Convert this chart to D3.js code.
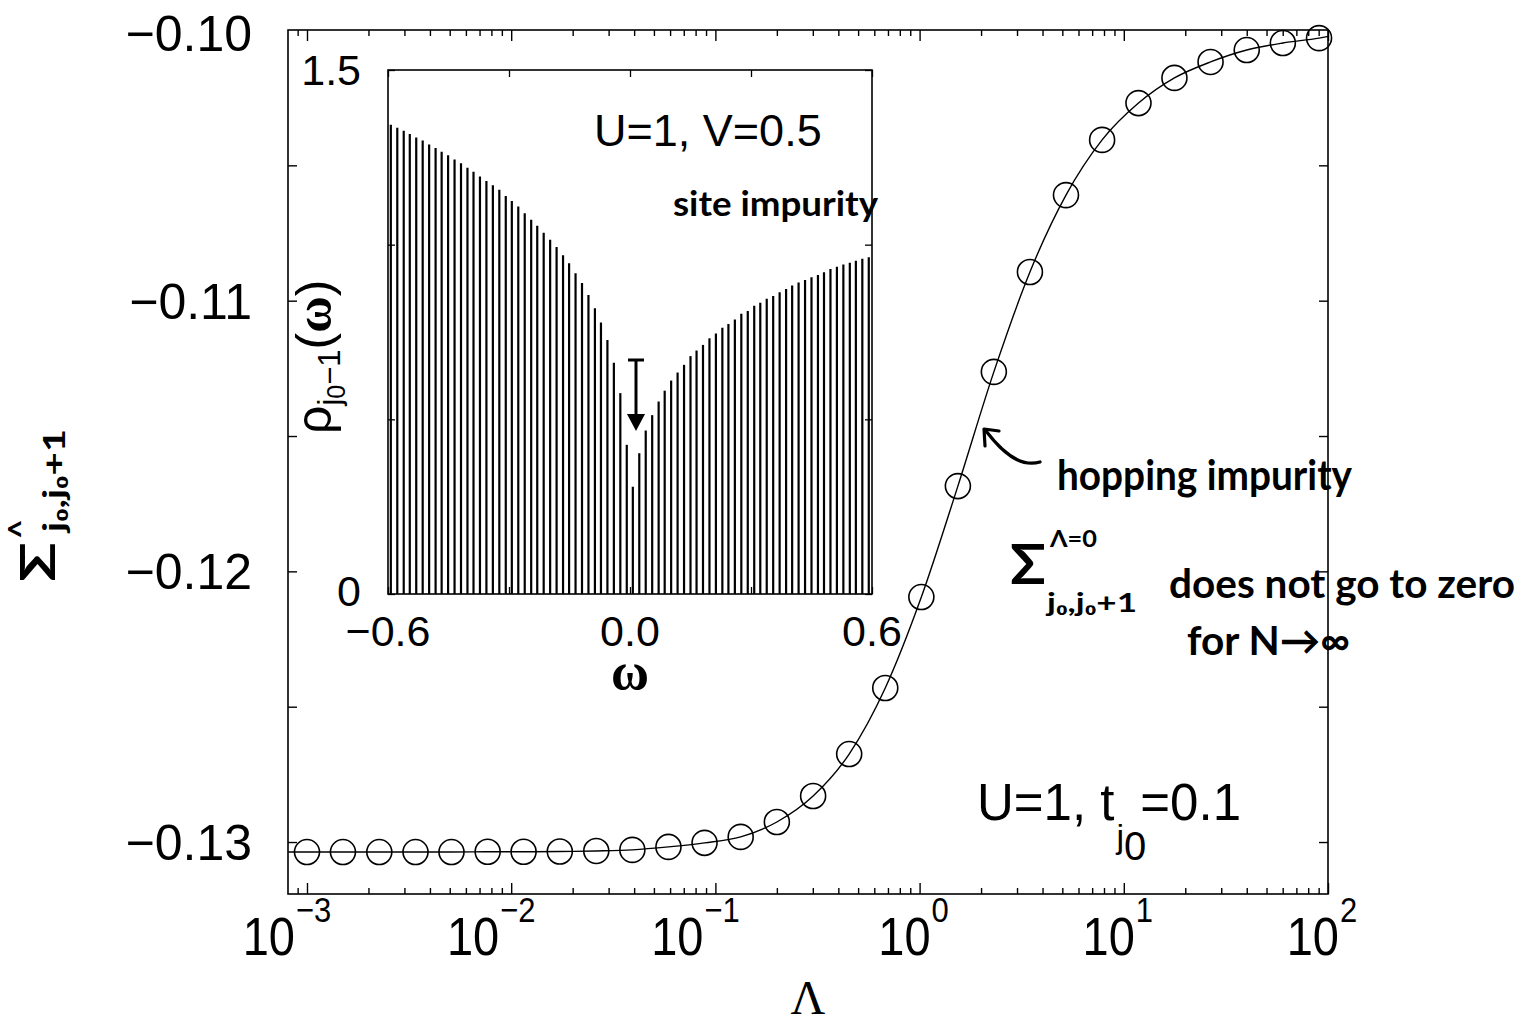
<!DOCTYPE html>
<html><head><meta charset="utf-8">
<script src="https://cdn.jsdelivr.net/npm/d3@7"></script>
<style>body{margin:0;background:#fff} svg{display:block}</style>
</head><body>
<svg id="c" width="1519" height="1028"></svg>
<script>
// ---------- main panel data ----------
const lambda = [0.001, 0.0015, 0.00226, 0.0034, 0.0051, 0.00767, 0.0115, 0.0173, 0.0261, 0.0392,
  0.0589, 0.0885, 0.133, 0.2, 0.301, 0.452, 0.679, 1.02, 1.54, 2.31, 3.47, 5.21, 7.83, 11.8,
  17.7, 26.6, 40.0, 60.1, 90.4];
const sigma = [-0.13037, -0.13037, -0.13037, -0.13037, -0.13037, -0.13036, -0.13036, -0.13035,
  -0.13033, -0.13029, -0.13018, -0.13003, -0.12981, -0.12926, -0.12830, -0.12675, -0.12431,
  -0.12095, -0.11685, -0.11263, -0.10894, -0.10610, -0.10406, -0.10270, -0.10177, -0.10118,
  -0.10074, -0.10048, -0.10030];
const curveEndLambda = [0.00081, 100];
const curveEndSigma = [-0.13037, -0.10024];
const yTickValues = [-0.13, -0.125, -0.12, -0.115, -0.11, -0.105, -0.10];
const yTickLabels = ["\u22120.13", "", "\u22120.12", "", "\u22120.11", "", "\u22120.10"];
const xTickExponents = [-3, -2, -1, 0, 1, 2];

// ---------- inset data ----------
const omega = [-0.593, -0.577, -0.561, -0.546, -0.530, -0.514, -0.498, -0.482, -0.467, -0.451,
  -0.435, -0.419, -0.403, -0.388, -0.372, -0.356, -0.340, -0.324, -0.308, -0.293, -0.277, -0.261,
  -0.245, -0.230, -0.214, -0.198, -0.182, -0.166, -0.151, -0.135, -0.119, -0.103, -0.087, -0.072,
  -0.056, -0.040, -0.024, -0.008, 0.007, 0.023, 0.039, 0.055, 0.071, 0.086, 0.102, 0.118, 0.134,
  0.150, 0.165, 0.181, 0.197, 0.213, 0.229, 0.244, 0.260, 0.276, 0.292, 0.308, 0.323, 0.339,
  0.355, 0.371, 0.387, 0.402, 0.418, 0.434, 0.450, 0.466, 0.481, 0.497, 0.513, 0.529, 0.545,
  0.560, 0.576, 0.592];
const rho = [1.343, 1.335, 1.326, 1.317, 1.307, 1.298, 1.287, 1.277, 1.266, 1.256, 1.244, 1.233,
  1.220, 1.209, 1.195, 1.182, 1.170, 1.157, 1.139, 1.125, 1.109, 1.090, 1.071, 1.054, 1.034,
  1.014, 0.993, 0.970, 0.947, 0.918, 0.890, 0.856, 0.818, 0.777, 0.727, 0.662, 0.575, 0.427,
  0.307, 0.403, 0.468, 0.512, 0.551, 0.582, 0.611, 0.634, 0.656, 0.681, 0.697, 0.713, 0.732,
  0.746, 0.762, 0.773, 0.786, 0.802, 0.810, 0.825, 0.834, 0.845, 0.853, 0.864, 0.873, 0.883,
  0.892, 0.899, 0.907, 0.913, 0.921, 0.930, 0.937, 0.943, 0.948, 0.954, 0.960, 0.964];
const insetXTicks = [-0.6, -0.3, 0, 0.3, 0.6];
const insetXLabels = ["\u22120.6", "", "0.0", "", "0.6"];
const insetYTicks = [0, 0.5, 1.0, 1.5];
const insetYLabels = ["0", "", "", "1.5"];

// ---------- drawing ----------
const svg = d3.select("#c");
const SANS = "'Liberation Sans', Arial, Helvetica, sans-serif";
const SERIF = "'Liberation Serif', 'Times New Roman', serif";
const HAND = "Lato, 'Open Sans', sans-serif";

const M = {l: 288, r: 1328, t: 30, b: 894};
const x = d3.scaleLog().domain([Math.pow(10, -3.093), 100]).range([M.l, M.r]);
const y = d3.scaleLinear().domain([-0.13192, -0.10]).range([M.b, M.t]);

// minor ticks
const majors = xTickExponents.map(e => Math.pow(10, e));
const minors = [];
for (let e = -4; e < 2; e++) for (let m = 2; m <= 9; m++) {
  const v = m * Math.pow(10, e);
  if (v > x.domain()[0] && v < 100) minors.push(v);
}

function styleAxis(g) {
  g.select(".domain").remove();
  g.selectAll(".tick line").attr("stroke", "#000").attr("stroke-width", 1.4);
  g.selectAll(".tick text").remove();
}
svg.append("g").attr("transform", `translate(0,${M.b})`)
  .call(d3.axisBottom(x).tickValues(majors).tickSize(-11).tickFormat("")).call(styleAxis);
svg.append("g").attr("transform", `translate(0,${M.b})`)
  .call(d3.axisBottom(x).tickValues(minors).tickSize(-6).tickFormat("")).call(styleAxis);
svg.append("g").attr("transform", `translate(0,${M.t})`)
  .call(d3.axisTop(x).tickValues(majors).tickSize(-11).tickFormat("")).call(styleAxis);
svg.append("g").attr("transform", `translate(0,${M.t})`)
  .call(d3.axisTop(x).tickValues(minors).tickSize(-6).tickFormat("")).call(styleAxis);
const yTicksIn = yTickValues.filter(v => v > -0.13192 && v < -0.1001);
svg.append("g").attr("transform", `translate(${M.l},0)`)
  .call(d3.axisLeft(y).tickValues(yTicksIn).tickSize(-9).tickFormat("")).call(styleAxis);
svg.append("g").attr("transform", `translate(${M.r},0)`)
  .call(d3.axisRight(y).tickValues(yTicksIn).tickSize(-9).tickFormat("")).call(styleAxis);

// frame
svg.append("rect").attr("x", M.l).attr("y", M.t).attr("width", M.r - M.l).attr("height", M.b - M.t)
  .attr("fill", "none").attr("stroke", "#000").attr("stroke-width", 1.6);

// y tick labels
yTickValues.forEach((v, i) => {
  if (!yTickLabels[i]) return;
  svg.append("text").attr("x", 252).attr("y", y(v) + (i === yTickValues.length - 1 ? 3 : 0)).attr("dy", "0.36em")
    .attr("text-anchor", "end").attr("font-family", SANS).attr("font-size", 50)
    .text(yTickLabels[i]);
});
// x tick labels
xTickExponents.forEach(e => {
  const tx = x(Math.pow(10, e)) + (e < 0 ? -12 : 11);
  const g = svg.append("g").attr("transform", `translate(${tx},955) scale(1,1.15)`);
  g.append("text").attr("text-anchor", "end").attr("font-family", SANS).attr("font-size", 47).text("10");
  g.append("text").attr("x", 1).attr("y", -29).attr("font-family", SANS).attr("font-size", 31)
    .text(e < 0 ? "\u2212" + Math.abs(e) : String(e));
});
// x axis title
svg.append("text").attr("x", (M.l + M.r) / 2).attr("y", 1014).attr("text-anchor", "middle")
  .attr("font-family", SERIF).attr("font-size", 48).text("\u039B");

// y axis title (handwritten style)
const yl = svg.append("g").attr("transform", "translate(55,582) rotate(-90)")
  .attr("font-family", HAND).attr("font-weight", 700);
yl.append("text").attr("x", 0).attr("y", 0).attr("font-size", 48)
  .attr("textLength", 40).attr("lengthAdjust", "spacingAndGlyphs").text("\u03A3");
yl.append("text").attr("x", 43).attr("y", -22).attr("font-size", 34).text("^");
yl.append("text").attr("x", 50).attr("y", 10).attr("font-size", 30)
  .attr("textLength", 103).attr("lengthAdjust", "spacingAndGlyphs").text("j\u2080,j\u2080+1");

// fitted curve + circles
const pts = lambda.map((l, i) => [l, sigma[i]]);
const linePts = [[curveEndLambda[0], curveEndSigma[0]], ...pts, [curveEndLambda[1], curveEndSigma[1]]];
const line = d3.line().x(d => x(d[0])).y(d => y(d[1])).curve(d3.curveMonotoneX);
svg.append("path").attr("d", line(linePts)).attr("fill", "none").attr("stroke", "#000").attr("stroke-width", 1.4);
svg.append("g").selectAll("circle").data(pts).join("circle")
  .attr("cx", d => x(d[0])).attr("cy", d => y(d[1])).attr("r", 12.5)
  .attr("fill", "none").attr("stroke", "#000").attr("stroke-width", 1.6);

// label U=1, t_j0=0.1
const ut = svg.append("text").attr("x", 977).attr("y", 820).attr("font-family", SANS).attr("font-size", 51);
ut.append("tspan").text("U=1, t");
ut.append("tspan").attr("font-size", 34).attr("dy", 28).attr("dx", 2).text("j");
ut.append("tspan").attr("font-size", 40).attr("dy", 12).text("0");
ut.append("tspan").attr("dy", -40).attr("dx", -6).text("=0.1");

// ---------- inset ----------
const I = {l: 388, r: 872, t: 70, b: 594};
const xi = d3.scaleLinear().domain([-0.6, 0.6]).range([I.l, I.r]);
const yi = d3.scaleLinear().domain([0, 1.5]).range([I.b, I.t]);
svg.append("rect").attr("x", I.l).attr("y", I.t).attr("width", I.r - I.l).attr("height", I.b - I.t)
  .attr("fill", "#fff");
svg.append("g").selectAll("line").data(omega.map((w, i) => [w, rho[i]])).join("line")
  .attr("x1", d => xi(d[0])).attr("x2", d => xi(d[0]))
  .attr("y1", yi(0)).attr("y2", d => yi(d[1]))
  .attr("stroke", "#000").attr("stroke-width", 2.2);
function styleInset(g) {
  g.select(".domain").remove();
  g.selectAll(".tick line").attr("stroke", "#000").attr("stroke-width", 1.3);
  g.selectAll(".tick text").remove();
}
svg.append("g").attr("transform", `translate(0,${I.t})`)
  .call(d3.axisTop(xi).tickValues(insetXTicks).tickSize(-7).tickFormat("")).call(styleInset);
svg.append("g").attr("transform", `translate(0,${I.b})`)
  .call(d3.axisBottom(xi).tickValues(insetXTicks).tickSize(-7).tickFormat("")).call(styleInset);
svg.append("g").attr("transform", `translate(${I.r},0)`)
  .call(d3.axisRight(yi).tickValues(insetYTicks).tickSize(-7).tickFormat("")).call(styleInset);
svg.append("g").attr("transform", `translate(${I.l},0)`)
  .call(d3.axisLeft(yi).tickValues(insetYTicks).tickSize(-7).tickFormat("")).call(styleInset);
svg.append("rect").attr("x", I.l).attr("y", I.t).attr("width", I.r - I.l).attr("height", I.b - I.t)
  .attr("fill", "none").attr("stroke", "#000").attr("stroke-width", 1.6);

insetXTicks.forEach((v, i) => {
  if (!insetXLabels[i]) return;
  svg.append("text").attr("x", xi(v)).attr("y", 646).attr("text-anchor", "middle")
    .attr("font-family", SANS).attr("font-size", 43).text(insetXLabels[i]);
});
insetYTicks.forEach((v, i) => {
  if (!insetYLabels[i]) return;
  svg.append("text").attr("x", 361).attr("y", yi(v) - (v === 0 ? 3 : 0)).attr("dy", "0.36em").attr("text-anchor", "end")
    .attr("font-family", SANS).attr("font-size", 43).text(insetYLabels[i]);
});
svg.append("text").attr("x", xi(0)).attr("y", 689).attr("text-anchor", "middle")
  .attr("font-family", SERIF).attr("font-weight", 700).attr("font-size", 52).text("\u03C9");

// inset y title rho_{j0-1}(omega)
const ryl = svg.append("g").attr("transform", "translate(331,434) rotate(-90)").attr("font-family", SANS);
const rt = ryl.append("text").attr("x", 0).attr("y", 0).attr("font-size", 50);
rt.append("tspan").text("\u03C1");
rt.append("tspan").attr("font-size", 31).attr("dy", 9).text("j");
rt.append("tspan").attr("font-size", 25).attr("dy", 5).text("0");
rt.append("tspan").attr("font-size", 31).attr("dy", -5).text("\u22121");
rt.append("tspan").attr("font-size", 50).attr("dy", -9).text("(");
rt.append("tspan").attr("font-family", SERIF).attr("font-weight", 700).attr("font-size", 50).text("\u03C9");
rt.append("tspan").attr("font-size", 50).text(")");

svg.append("text").attr("x", 594).attr("y", 146).attr("font-family", SANS).attr("font-size", 45)
  .text("U=1, V=0.5");

// inset arrow
const ax = 636;
svg.append("line").attr("x1", ax - 8).attr("x2", ax + 8).attr("y1", 360).attr("y2", 360)
  .attr("stroke", "#000").attr("stroke-width", 3);
svg.append("line").attr("x1", ax).attr("x2", ax).attr("y1", 360).attr("y2", 418)
  .attr("stroke", "#000").attr("stroke-width", 3);
svg.append("path").attr("d", `M${ax - 9},414 L${ax + 9},414 L${ax},431 Z`).attr("fill", "#000");

// handwritten annotations
function hand(xp, yp, size, len, txt) {
  return svg.append("text").attr("x", xp).attr("y", yp).attr("font-family", HAND)
    .attr("font-weight", 700).attr("font-size", size)
    .attr("textLength", len).attr("lengthAdjust", "spacingAndGlyphs").text(txt);
}
hand(673, 216, 34, 205, "site impurity");
hand(1057, 490, 42, 295, "hopping impurity");
svg.append("path").attr("d", "M1040,462 C1020,468 1002,452 986,431")
  .attr("fill", "none").attr("stroke", "#000").attr("stroke-width", 3.2).attr("stroke-linecap", "round");
svg.append("path").attr("d", "M985,446 L984,429 L999,431")
  .attr("fill", "none").attr("stroke", "#000").attr("stroke-width", 3.2).attr("stroke-linecap", "round")
  .attr("stroke-linejoin", "round");
hand(1010, 584, 56, 36, "\u03A3");
hand(1050, 547, 22, 47, "\u039B=0");
hand(1047, 612, 26, 90, "j\u2080,j\u2080+1");
hand(1169, 598, 40, 346, "does not go to zero");
hand(1187, 655, 40, 163, "for N\u2192\u221E");
</script>
</body></html>
